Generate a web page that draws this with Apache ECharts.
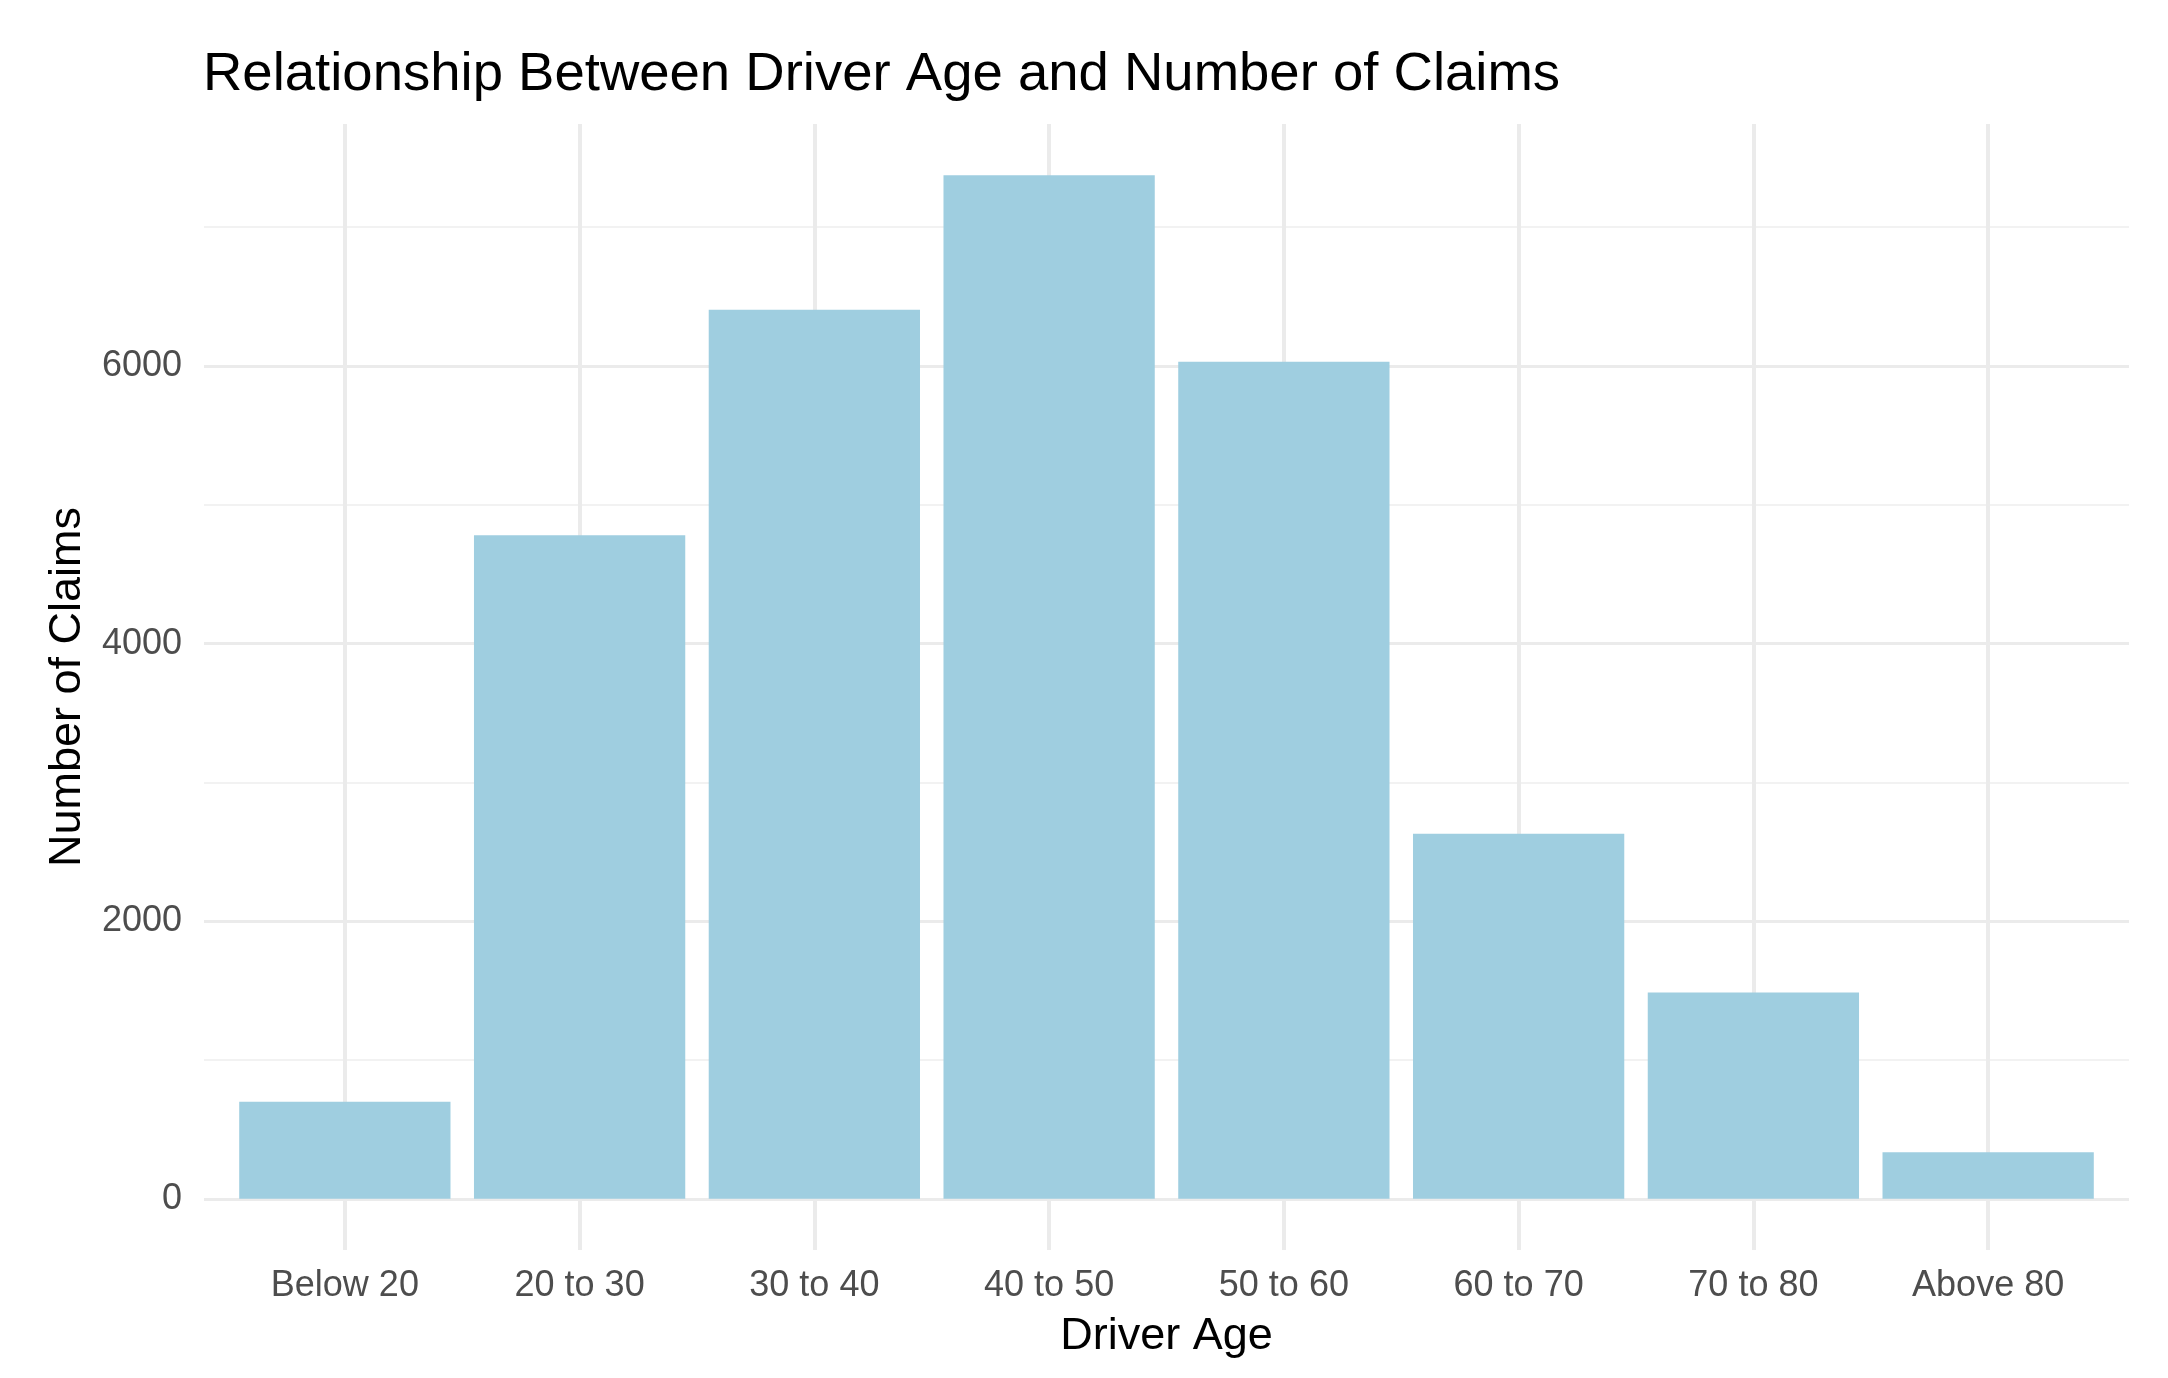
<!DOCTYPE html>
<html>
<head>
<meta charset="utf-8">
<style>
  html, body { margin: 0; padding: 0; background: #ffffff; }
  #chart { width: 2168px; height: 1378px; }
</style>
<script src="https://cdn.jsdelivr.net/npm/echarts@6/dist/echarts.min.js"></script>
</head>
<body>
<div id="chart"></div>
<script>
// ---- data ----
const categories = ['Below 20', '20 to 30', '30 to 40', '40 to 50', '50 to 60', '60 to 70', '70 to 80', 'Above 80'];
const claims = [700, 4780, 6405, 7375, 6030, 2630, 1487, 335];
const majorTicks = [0, 2000, 4000, 6000];
const minorTicks = [1000, 3000, 5000, 7000];

// ---- layout ----
const W = 2168, H = 1378;
const panelLeft = 204, panelRight = 2129, panelTop = 124, panelBottom = 1250;
const nCat = categories.length;
const unit = (panelRight - panelLeft) / (nCat + 0.2);   // ggplot discrete expansion 0.6 each side
const barLeft = panelLeft + 0.1 * unit;
const barRight = panelRight - 0.1 * unit;
const maxV = Math.max(...claims);
const yMin = -0.05 * maxV, yMax = 1.05 * maxV;
const k = (panelBottom - panelTop) / (yMax - yMin);
const zeroY = panelBottom + yMin * k;
const yOf = v => zeroY - v * k;

const gridColor = '#EBEBEB';
const minorColor = '#F2F2F2';
const font = 'Liberation Sans, Arial, Helvetica, sans-serif';

const chart = echarts.init(document.getElementById('chart'), null, { renderer: 'canvas' });
chart.setOption({
  animation: false,
  backgroundColor: '#ffffff',
  title: {
    text: 'Relationship Between Driver Age and Number of Claims',
    left: panelLeft - 6,
    top: 42,
    textStyle: { fontFamily: font, fontSize: 54.5, fontWeight: 'normal', color: '#000000' }
  },
  grid: [
    { left: barLeft, right: W - barRight, top: panelTop, bottom: H - panelBottom },
    { left: panelLeft, right: W - panelRight, top: yOf(majorTicks[majorTicks.length - 1]), bottom: H - yOf(majorTicks[0]) },
    { left: panelLeft, right: W - panelRight, top: yOf(minorTicks[minorTicks.length - 1]), bottom: H - yOf(minorTicks[0]) }
  ],
  xAxis: [
    {
      gridIndex: 0, type: 'category', data: categories,
      axisLine: { show: false, onZero: false },
      axisTick: { show: true, alignWithLabel: true, inside: true, length: panelBottom - panelTop,
                  lineStyle: { color: gridColor, width: 4 } },
      axisLabel: { fontFamily: font, fontSize: 36, color: '#4D4D4D', margin: 18 },
      name: 'Driver Age', nameLocation: 'middle', nameGap: 64,
      nameTextStyle: { fontFamily: font, fontSize: 45, color: '#000000' }
    },
    { gridIndex: 1, type: 'value', show: false },
    { gridIndex: 2, type: 'value', show: false }
  ],
  yAxis: [
    {
      gridIndex: 0, type: 'value', min: yMin, max: yMax,
      axisLine: { show: false }, axisTick: { show: false }, axisLabel: { show: false },
      splitLine: { show: false },
      name: 'Number of Claims', nameLocation: 'middle', nameRotate: 90, nameGap: 137,
      nameTextStyle: { fontFamily: font, fontSize: 45, color: '#000000' }
    },
    {
      gridIndex: 1, type: 'value',
      min: majorTicks[0], max: majorTicks[majorTicks.length - 1], interval: majorTicks[1] - majorTicks[0],
      axisLine: { show: false }, axisTick: { show: false },
      axisLabel: { fontFamily: font, fontSize: 36, color: '#4D4D4D', margin: 22, formatter: v => String(v) },
      splitLine: { show: true, lineStyle: { color: gridColor, width: 3 } }
    },
    {
      gridIndex: 2, type: 'value',
      min: minorTicks[0], max: minorTicks[minorTicks.length - 1], interval: minorTicks[1] - minorTicks[0],
      axisLine: { show: false }, axisTick: { show: false }, axisLabel: { show: false },
      splitLine: { show: true, lineStyle: { color: minorColor, width: 2 } }
    }
  ],
  series: [
    {
      type: 'bar', xAxisIndex: 0, yAxisIndex: 0,
      data: claims,
      barCategoryGap: '10%',
      itemStyle: { color: '#9FCEE0' }
    }
  ]
});
</script>
</body>
</html>
